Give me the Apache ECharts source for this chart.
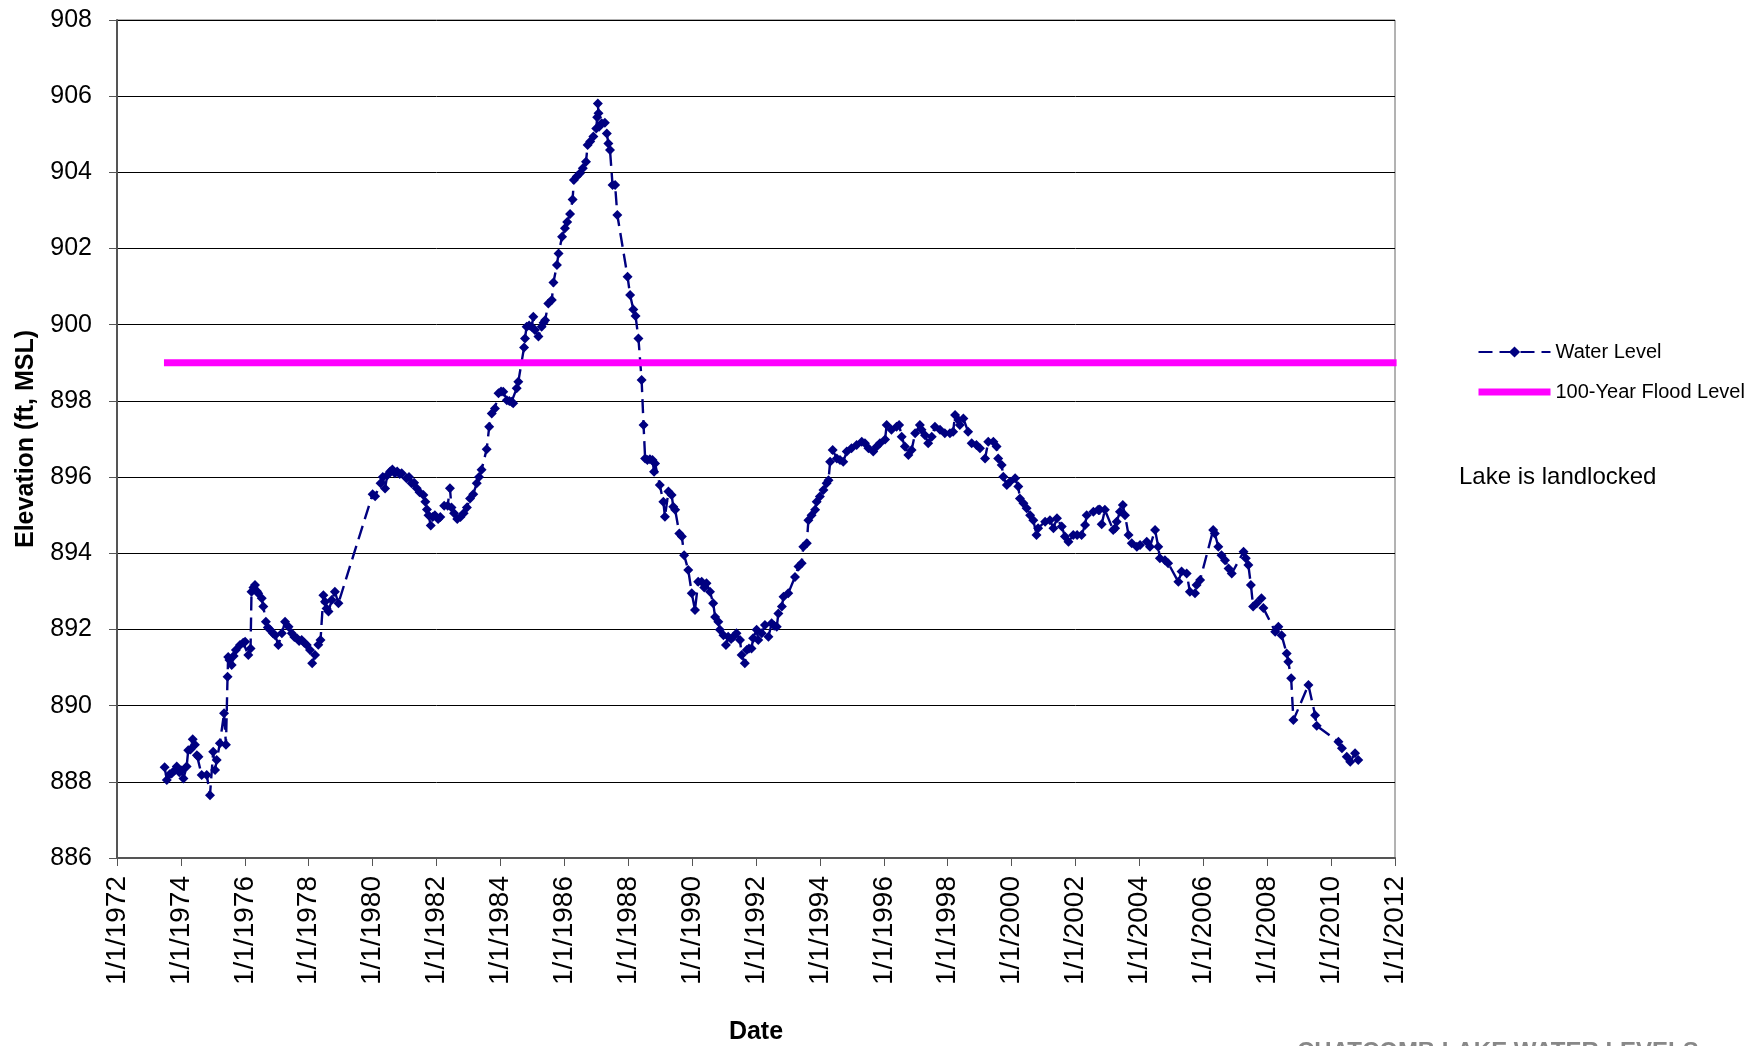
<!DOCTYPE html>
<html>
<head>
<meta charset="utf-8">
<script src="https://cdn.jsdelivr.net/npm/echarts@6/dist/echarts.min.js"></script>
<style>
html,body{margin:0;padding:0;background:#fff;}
#chart{width:1754px;height:1046px;}
</style>
</head>
<body>
<div id="chart"></div>
<script>
// Dates as decimal years, water levels in ft MSL
var dates = [
1973.49,1973.56,1973.65,1973.71,1973.80,1973.87,1973.95,1974.02,1974.08,1974.18,1974.23,1974.30,1974.37,1974.44,1974.50,1974.55,1974.65,1974.81,1974.91,1975.01,
1975.07,1975.12,1975.22,1975.35,1975.41,1975.46,1975.48,1975.52,1975.59,1975.65,1975.72,1975.85,1975.95,1976.01,1976.11,1976.18,1976.21,1976.27,1976.32,1976.38,
1976.42,1976.53,1976.58,1976.66,1976.72,1976.79,1976.88,1976.95,1977.05,1977.16,1977.26,1977.37,1977.47,1977.55,1977.63,1977.70,1977.78,1977.86,1977.94,1978.04,
1978.11,1978.20,1978.30,1978.37,1978.46,1978.51,1978.56,1978.62,1978.72,1978.82,1978.93,
1980.00,1980.08,1980.25,1980.32,1980.39,1980.46,1980.55,1980.62,1980.70,1980.77,1980.85,1980.91,1981.06,1981.14,1981.22,1981.30,1981.38,1981.47,1981.59,1981.65,
1981.70,1981.75,1981.82,1981.88,1981.95,1982.05,1982.12,1982.24,1982.35,1982.42,1982.47,1982.55,1982.65,1982.75,1982.85,1982.95,1983.05,1983.15,1983.26,1983.33,
1983.41,1983.57,1983.65,1983.73,1983.83,1983.94,1984.02,1984.09,1984.20,1984.28,1984.35,1984.40,1984.51,1984.56,1984.74,1984.77,1984.82,1984.90,1984.98,1985.03,
1985.08,1985.19,1985.29,1985.35,1985.40,1985.50,1985.61,1985.66,1985.77,1985.82,1985.93,1986.02,1986.09,1986.18,1986.26,1986.30,1986.39,1986.49,1986.58,1986.68,
1986.73,1986.81,1986.91,1987.00,1987.03,1987.05,1987.07,1987.09,1987.17,1987.27,1987.33,1987.38,1987.43,1987.51,1987.59,1987.66,1987.98,1988.06,1988.16,1988.23,
1988.32,1988.42,1988.48,1988.53,1988.60,1988.68,1988.76,1988.81,1988.84,1988.99,1989.10,1989.15,1989.26,1989.36,1989.41,1989.47,1989.60,1989.68,1989.75,1989.88,
1989.99,1990.09,1990.19,1990.30,1990.38,1990.45,1990.56,1990.66,1990.72,1990.82,1990.87,1990.98,1991.06,1991.13,1991.22,1991.29,1991.39,1991.50,1991.55,1991.65,
1991.71,1991.78,1991.86,1991.91,1992.02,1992.07,1992.18,1992.28,1992.39,1992.49,1992.57,1992.65,1992.70,1992.81,1992.86,1993.01,1993.22,1993.33,1993.43,1993.48,
1993.59,1993.64,1993.74,1993.85,1993.90,1994.00,1994.11,1994.21,1994.27,1994.32,1994.40,1994.53,1994.63,1994.73,1994.84,1994.99,1995.15,1995.31,1995.41,1995.52,
1995.67,1995.78,1995.88,1996.04,1996.09,1996.24,1996.40,1996.48,1996.56,1996.66,1996.77,1996.87,1996.98,1997.13,1997.18,1997.29,1997.39,1997.50,1997.60,1997.76,
1997.91,1998.07,1998.17,1998.23,1998.33,1998.38,1998.49,1998.64,1998.75,1998.90,1999.01,1999.17,1999.27,1999.43,1999.53,1999.58,1999.69,1999.74,1999.85,1999.95,
2000.11,2000.21,2000.26,2000.37,2000.47,2000.58,2000.68,2000.78,2000.83,2001.05,2001.20,2001.31,2001.42,2001.57,2001.67,2001.78,2001.93,2002.05,2002.19,2002.30,
2002.35,2002.56,2002.71,2002.76,2002.82,2002.92,2003.18,2003.24,2003.29,2003.39,2003.48,2003.55,2003.66,2003.76,2003.92,2004.02,2004.23,2004.33,2004.49,2004.59,
2004.64,2004.80,2004.90,2005.22,2005.32,2005.48,2005.58,2005.74,2005.79,2005.90,2006.31,2006.36,2006.47,2006.57,2006.68,2006.79,2006.89,2007.26,2007.33,2007.41,
2007.49,2007.56,2007.67,2007.82,2007.88,2008.25,2008.35,2008.45,2008.61,2008.66,2008.75,2008.82,2009.29,2009.50,2009.55,2010.23,2010.34,2010.49,2010.60,2010.75,
2010.85
];
var levels = [
888.38,888.05,888.20,888.22,888.30,888.40,888.25,888.30,888.09,888.40,888.83,888.85,889.12,888.97,888.70,888.66,888.18,888.18,887.65,888.79,
888.31,888.57,889.01,889.80,888.97,890.76,891.28,891.20,891.07,891.30,891.46,891.59,891.65,891.68,891.33,891.50,892.99,893.10,893.17,893.00,
892.95,892.82,892.60,892.20,892.05,891.99,891.90,891.85,891.59,891.90,892.20,892.07,891.90,891.80,891.77,891.70,891.72,891.65,891.59,891.46,
891.11,891.33,891.60,891.72,892.90,892.73,892.55,892.47,892.77,892.99,892.69,
895.55,895.50,895.84,896.00,895.70,896.05,896.15,896.20,896.10,896.15,896.08,896.10,895.97,896.00,895.84,895.85,895.71,895.60,895.53,895.35,
895.15,895.00,894.73,894.95,895.00,894.90,894.95,895.25,895.25,895.71,895.20,895.05,894.90,894.95,895.05,895.20,895.44,895.55,895.84,896.00,
896.19,896.73,897.32,897.67,897.80,898.20,898.25,898.24,898.02,898.00,897.98,897.94,898.33,898.50,899.40,899.64,899.95,899.98,899.95,900.21,
899.86,899.69,899.95,900.05,900.12,900.56,900.65,901.11,901.57,901.87,902.31,902.53,902.70,902.91,903.29,903.80,903.89,903.98,904.11,904.28,
904.72,904.81,904.94,905.15,905.45,905.81,905.55,905.20,905.29,905.30,905.02,904.76,904.59,903.67,903.67,902.88,901.26,900.78,900.40,900.23,
899.64,898.55,897.37,896.49,896.45,896.47,896.45,896.14,896.36,895.79,895.35,894.96,895.62,895.53,895.22,895.14,894.52,894.44,893.95,893.56,
892.95,892.51,893.25,893.25,893.10,893.21,892.99,892.69,892.33,892.20,891.99,891.85,891.59,891.81,891.75,891.81,891.90,891.72,891.33,891.11,
891.46,891.50,891.50,891.77,891.99,891.72,891.90,892.12,891.81,892.16,892.10,892.07,892.42,892.60,892.86,892.95,893.38,893.65,893.74,894.17,
894.26,894.87,895.00,895.14,895.35,895.49,895.66,895.84,895.92,896.40,896.71,896.49,896.45,896.40,896.67,896.76,896.84,896.93,896.89,896.76,
896.67,896.80,896.89,896.99,897.37,897.24,897.32,897.37,897.06,896.80,896.58,896.71,897.15,897.37,897.24,897.10,896.89,897.06,897.32,897.24,
897.15,897.15,897.19,897.63,897.50,897.37,897.54,897.19,896.89,896.84,896.76,896.49,896.93,896.93,896.80,896.49,896.32,896.01,895.79,895.88,
895.97,895.75,895.44,895.31,895.18,895.00,894.87,894.48,894.66,894.83,894.87,894.66,894.92,894.70,894.44,894.30,894.48,894.48,894.48,894.74,
895.00,895.09,895.14,895.15,894.76,895.14,894.61,894.66,894.83,895.09,895.27,895.00,894.48,894.26,894.17,894.22,894.30,894.17,894.61,894.17,
893.87,893.82,893.74,893.25,893.52,893.47,892.99,892.95,893.17,893.30,894.61,894.52,894.17,893.95,893.82,893.60,893.47,894.04,893.87,893.69,
893.17,892.60,892.69,892.82,892.56,891.94,892.07,891.85,891.37,891.15,890.72,889.62,890.54,889.75,889.47,889.05,888.88,888.66,888.53,888.75,
888.57
];
var floodDates = [1973.47, 2012.05];
var floodLevel = [899, 899];
var xTicksMin = 1972, xTicksMax = 2012, xTickStep = 2;
var yMin = 886, yMax = 908, yStep = 2;

var waterData = dates.map(function(d, i){ return [d, levels[i]]; });
var floodData = floodDates.map(function(d, i){ return [d, floodLevel[i]]; });

var FONT = "'Liberation Sans', Arial, sans-serif";
var chart = echarts.init(document.getElementById('chart'), null, {renderer: 'canvas'});
chart.setOption({
  animation: false,
  backgroundColor: '#ffffff',
  grid: {left: 117, top: 20, width: 1278, height: 838, outerBoundsMode: 'none', containLabel: false,
    show: true, borderColor: '#666', borderWidth: 1, backgroundColor: 'transparent'},
  legend: {
    orient: 'vertical', left: 1470, top: 337, itemWidth: 72, itemHeight: 14, itemGap: 20,
    textStyle: {fontFamily: FONT, fontSize: 20, color: '#000', lineHeight: 20},
    data: [
      {name: 'Water Level'},
      {name: '100-Year Flood Level', itemStyle: {opacity: 0}, lineStyle: {width: 7, color: '#FF00FF', type: 'solid'}}
    ]
  },
  xAxis: {
    type: 'value', min: xTicksMin, max: xTicksMax, interval: xTickStep,
    name: 'Date', nameLocation: 'middle', nameGap: 162,
    nameTextStyle: {fontFamily: FONT, fontSize: 25, fontWeight: 'bold', color: '#000'},
    axisLine: {show: true, lineStyle: {color: '#555', width: 2}},
    axisTick: {show: true, length: 8, lineStyle: {color: '#555', width: 1}},
    axisLabel: {rotate: 90, margin: 18, fontFamily: FONT, fontSize: 28, color: '#000',
      formatter: function(v){ return '1/1/' + v; }},
    splitLine: {show: false}
  },
  yAxis: {
    type: 'value', min: yMin, max: yMax, interval: yStep,
    name: 'Elevation (ft, MSL)', nameLocation: 'middle', nameGap: 78,
    nameTextStyle: {fontFamily: FONT, fontSize: 25, fontWeight: 'bold', color: '#000'},
    axisLine: {show: true, lineStyle: {color: '#555', width: 2}},
    axisTick: {show: true, length: 8, lineStyle: {color: '#555', width: 1}},
    axisLabel: {margin: 25, fontFamily: FONT, fontSize: 25, color: '#000'},
    splitLine: {show: true, lineStyle: {color: '#000', width: 1}}
  },
  series: [
    {
      name: 'Water Level', type: 'line', data: waterData,
      symbol: 'diamond', symbolSize: 10, showSymbol: true,
      itemStyle: {color: '#000080'},
      lineStyle: {color: '#000080', width: 2.4, type: [14, 7]},
      z: 2
    },
    {
      name: '100-Year Flood Level', type: 'line', data: floodData,
      symbol: 'none', itemStyle: {color: '#FF00FF'},
      lineStyle: {color: '#FF00FF', width: 7, cap: 'butt'},
      z: 3
    }
  ],
  graphic: [
    {type: 'text', left: 1459, top: 465, style: {text: 'Lake is landlocked', fontFamily: FONT, fontSize: 24, fill: '#000'}},
    {type: 'text', left: 1297, top: 1040, style: {text: 'CHATCOMB LAKE WATER LEVELS', fontFamily: FONT, fontSize: 24, fontWeight: 'bold', fill: '#888'}}
  ]
});
</script>
</body>
</html>
